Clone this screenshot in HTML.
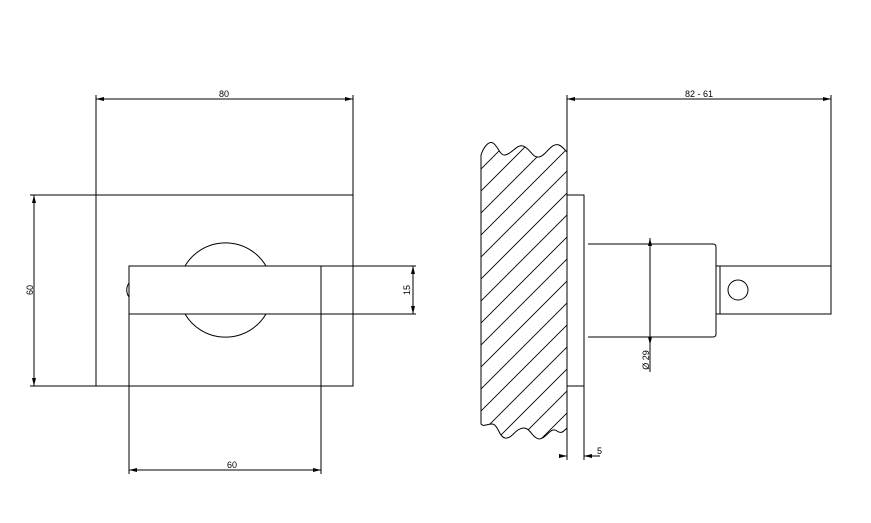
<!DOCTYPE html>
<html><head><style>html,body{margin:0;padding:0;background:#fff;overflow:hidden;width:871px;height:523px}svg{display:block}</style></head>
<body>
<svg width="871" height="523" viewBox="0 0 871 523" xmlns="http://www.w3.org/2000/svg" font-family="Liberation Sans, sans-serif" font-size="9">
<defs>
<marker id="a" viewBox="0 0 8 4" refX="8" refY="2" markerWidth="8" markerHeight="4" orient="auto-start-reverse" markerUnits="userSpaceOnUse"><path d="M0,0 L8,2 L0,4 z" fill="#000"/></marker>
<clipPath id="w"><path d="M481,155 C484,146 489,141 493,143 C498,146 500,156 505,155 C512,154 517,144 523,146 C530,148 532,158 539,157 C546,156 551,142 559,145 C563,147 565,150 567,152 L567,428 C563,432 561,434 557,431 C551,426 546,439 539,439 C532,438 530,427 523,428 C515,429 512,439 505,438 C499,437 498,424 492,424 C486,424 484,427 481,424 Z"/></clipPath>
</defs>
<g stroke="#000" stroke-width="1" fill="none">
<rect x="96" y="195" width="257" height="191"/>
<line x1="96" y1="95" x2="96" y2="195"/><line x1="353" y1="95" x2="353" y2="195"/>
<line x1="96" y1="99" x2="353" y2="99" marker-start="url(#a)" marker-end="url(#a)"/>
<line x1="30" y1="195" x2="96" y2="195"/><line x1="30" y1="386" x2="96" y2="386"/>
<line x1="34" y1="195" x2="34" y2="386" marker-start="url(#a)" marker-end="url(#a)"/>
<path d="M185,266 A47,47 0 0 1 266,266"/>
<path d="M185,314 A47,47 0 0 0 266,314"/>
<rect x="129" y="266" width="192" height="48"/>
<path d="M129,283 A12,12 0 0 0 129,297"/>
<line x1="321" y1="266" x2="416" y2="266"/><line x1="321" y1="314" x2="416" y2="314"/>
<line x1="413" y1="266" x2="413" y2="314" marker-start="url(#a)" marker-end="url(#a)"/>
<line x1="129" y1="314" x2="129" y2="474"/><line x1="321" y1="314" x2="321" y2="474"/>
<line x1="129" y1="470" x2="321" y2="470" marker-start="url(#a)" marker-end="url(#a)"/>
<g clip-path="url(#w)" stroke-width="0.9">
<line x1="400" y1="470" x2="720" y2="150"/>
<line x1="400" y1="448" x2="720" y2="128"/>
<line x1="400" y1="426" x2="720" y2="106"/>
<line x1="400" y1="404" x2="720" y2="84"/>
<line x1="400" y1="382" x2="720" y2="62"/>
<line x1="400" y1="360" x2="720" y2="40"/>
<line x1="400" y1="338" x2="720" y2="18"/>
<line x1="400" y1="316" x2="720" y2="-4"/>
<line x1="400" y1="294" x2="720" y2="-26"/>
<line x1="400" y1="272" x2="720" y2="-48"/>
<line x1="400" y1="250" x2="720" y2="-70"/>
<line x1="400" y1="228" x2="720" y2="-92"/>
<line x1="400" y1="492" x2="720" y2="172"/>
<line x1="400" y1="514" x2="720" y2="194"/>
<line x1="400" y1="536" x2="720" y2="216"/>
<line x1="400" y1="558" x2="720" y2="238"/>
<line x1="400" y1="580" x2="720" y2="260"/>
</g>
<path d="M481,155 C484,146 489,141 493,143 C498,146 500,156 505,155 C512,154 517,144 523,146 C530,148 532,158 539,157 C546,156 551,142 559,145 C563,147 565,150 567,152 L567,428 C563,432 561,434 557,431 C551,426 546,439 539,439 C532,438 530,427 523,428 C515,429 512,439 505,438 C499,437 498,424 492,424 C486,424 484,427 481,424 Z"/>
<line x1="567" y1="95" x2="567" y2="460"/>
<line x1="831" y1="95" x2="831" y2="267"/>
<line x1="567" y1="99" x2="831" y2="99" marker-start="url(#a)" marker-end="url(#a)"/>
<rect x="567" y="195" width="17" height="191"/>
<line x1="584" y1="386" x2="584" y2="460"/>
<line x1="560" y1="456" x2="567" y2="456" marker-end="url(#a)"/>
<line x1="592" y1="456" x2="584" y2="456" marker-end="url(#a)"/>
<line x1="584" y1="456" x2="600" y2="456"/>
<path d="M588,244 L713,244 Q716,244 716,247 L716,334 Q716,337 713,337 L588,337"/>
<rect x="716" y="266" width="4" height="48"/>
<rect x="720" y="266" width="111" height="48"/>
<circle cx="738" cy="290" r="10"/>
<line x1="650" y1="238" x2="650" y2="345" marker-start="url(#a)" marker-end="url(#a)"/>
<line x1="650" y1="337" x2="650" y2="372"/>
</g>
<g fill="#000">
<text x="224" y="97" text-anchor="middle">80</text>
<text x="232" y="468" text-anchor="middle">60</text>
<text transform="translate(33,290) rotate(-90)" text-anchor="middle">60</text>
<text transform="translate(410,290) rotate(-90)" text-anchor="middle">15</text>
<text x="699" y="97" text-anchor="middle">82 - 61</text>
<text x="597" y="454">5</text>
<text transform="translate(649,360) rotate(-90)" text-anchor="middle">Ø 29</text>
</g>
</svg>
</body></html>
